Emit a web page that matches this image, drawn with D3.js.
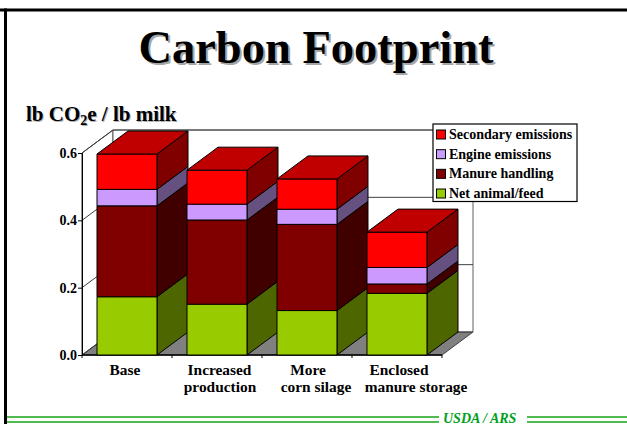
<!DOCTYPE html>
<html><head><meta charset="utf-8">
<script src="https://cdn.jsdelivr.net/npm/d3@7/dist/d3.min.js"></script>
<style>html,body{margin:0;padding:0;background:#fff}svg{display:block}text{font-family:"Liberation Serif",serif;font-weight:bold;fill:#000}</style>
</head><body><div id="chart"></div>
<script>
const categories = ["Base","Increased|production","More|corn silage","Enclosed|manure storage"];
const seriesNames = ["Net animal/feed","Manure handling","Engine emissions","Secondary emissions"];
const netAnimal = [0.173,0.151,0.132,0.183];
const manure = [0.270,0.250,0.256,0.028];
const engine = [0.049,0.047,0.045,0.049];
const secondary = [0.105,0.101,0.090,0.105];
const yTicks = [0,0.2,0.4,0.6];
const colors = ["#99cc00","#800000","#cc99ff","#ff0000"];
const sideColors = ["#4d6600","#400000","#665080","#800000"];
const topColor = "#c00000";

const W=627,H=424;
const svg=d3.select("#chart").append("svg").attr("width",W).attr("height",H);
const y=d3.scaleLinear().domain([0,0.6]).range([355,153]);
const x=d3.scaleBand().domain(categories).range([82,442]).paddingInner(0.3333).paddingOuter(0.1667);
const DX=31,DY=-23;
const poly=(pts,fill,stroke,sw)=>svg.append("polygon").attr("points",pts.map(p=>p.join(",")).join(" ")).attr("fill",fill).attr("stroke",stroke||"none").attr("stroke-width",sw||1);

// frame
svg.append("rect").attr("x",0).attr("y",8.5).attr("width",W).attr("height",3).attr("fill","#000");
svg.append("rect").attr("x",4).attr("y",8.5).attr("width",3).attr("height",H-8.5).attr("fill","#000");

// title
[[2,2,"#a6a6a6"],[0,0,"#000"]].forEach(([d,e,c])=>svg.append("text").attr("x",316+d).attr("y",63+e).attr("text-anchor","middle").attr("font-size",46.5).style("fill",c).text("Carbon Footprint"));
// axis title
[[1,1,"#b0b0b0"],[0,0,"#000"]].forEach(([d,e,c])=>{
 const t=svg.append("text").attr("x",26+d).attr("y",121+e).attr("font-size",21).style("fill",c);
 t.append("tspan").text("lb CO");
 t.append("tspan").attr("font-size",14).attr("dy",4).text("2");
 t.append("tspan").attr("dy",-4).text("e / lb milk");
});

// walls
const x0=82,x1=442;
poly([[x0,y(0)],[x0+DX,y(0)+DY],[x1+DX,y(0)+DY],[x1,y(0)]],"#808080","#404040");
poly([[x0,y(0)],[x0,y(0.6)],[x0+DX,y(0.6)+DY],[x0+DX,y(0)+DY]],"#fff","#303030");
poly([[x0+DX,y(0)+DY],[x0+DX,y(0.6)+DY],[x1+DX,y(0.6)+DY],[x1+DX,y(0)+DY]],"#fff","#606060");
yTicks.forEach(t=>{
  svg.append("polyline").attr("fill","none").attr("stroke","#404040")
   .attr("points",[[x0,y(t)],[x0+DX,y(t)+DY],[x1+DX,y(t)+DY]].map(p=>p.join(",")).join(" "));
});

// y axis
const yAxis=d3.axisLeft(y).tickValues(yTicks).tickFormat(d3.format(".1f")).tickSize(4).tickPadding(1);
const gy=svg.append("g").attr("transform",`translate(${x0},0)`).call(yAxis);
gy.selectAll("line").attr("stroke","#000");gy.select(".domain").attr("stroke","#000");
gy.selectAll("text").attr("font-size",14).attr("font-family",null);

// x axis line and ticks
const gx=svg.append("g");
gx.append("line").attr("x1",x0).attr("x2",x1).attr("y1",y(0)).attr("y2",y(0)).attr("stroke","#000").attr("stroke-width",1.4);
const step=x.step();
d3.range(0,5).forEach(i=>gx.append("line").attr("x1",x0+i*step).attr("x2",x0+i*step).attr("y1",y(0)).attr("y2",y(0)+3).attr("stroke","#000"));

// bars
const series=[netAnimal,manure,engine,secondary];
const labelShift=[[-2],[2.5,3],[1,9],[2,19]];
categories.forEach((c,i)=>{
  const bx=x(c),bw=x.bandwidth();
  let base=0;
  series.forEach((s,k)=>{
    const top=base+s[i];
    const y0=y(base),y1=y(top);
    poly([[bx+bw,y0],[bx+bw+DX,y0+DY],[bx+bw+DX,y1+DY],[bx+bw,y1]],sideColors[k],"#000");
    poly([[bx,y0],[bx+bw,y0],[bx+bw,y1],[bx,y1]],colors[k],"#000");
    base=top;
  });
  const yt=y(base);
  poly([[bx,yt],[bx+DX,yt+DY],[bx+bw+DX,yt+DY],[bx+bw,yt]],topColor,"#000");
  // category label
  c.split("|").forEach((l,j)=>svg.append("text").attr("x",bx+bw/2+labelShift[i][j]).attr("y",375+j*17).attr("text-anchor","middle").attr("font-size",15.4).text(l));
});

// legend
svg.append("rect").attr("x",433).attr("y",124).attr("width",144).attr("height",77.5).attr("fill","#fff").attr("stroke","#000").attr("stroke-width",1.2);
const legendOrder=[3,2,1,0];
const legendY=d3.scalePoint().domain(legendOrder).range([134.5,193.5]);
legendOrder.forEach(k=>{
  svg.append("rect").attr("x",436.5).attr("y",legendY(k)-4.5).attr("width",9).attr("height",9).attr("fill",colors[k]).attr("stroke","#000");
  svg.append("text").attr("x",449).attr("y",legendY(k)+4.5).attr("font-size",14).text(seriesNames[k]);
});

// footer
[[7,439],[527,W]].forEach(([a,b])=>[417,422].forEach(v=>svg.append("line").attr("x1",a).attr("x2",b).attr("y1",v).attr("y2",v).attr("stroke","#1aa31a").attr("stroke-width",1.5)));
svg.append("text").attr("x",443).attr("y",423).attr("font-size",14).attr("font-style","italic").style("fill","#00a020").text("USDA / ARS");
</script></body></html>
